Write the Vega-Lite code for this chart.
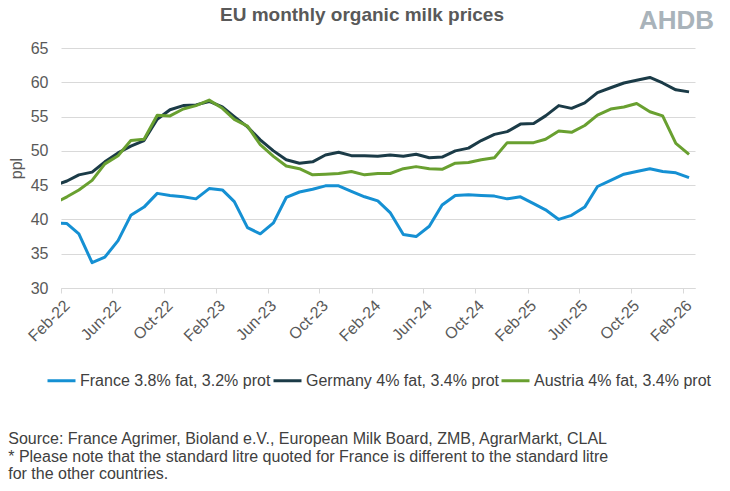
{
  "$schema": "https://vega.github.io/schema/vega-lite/v6.json",
  "padding": {"left": 8, "top": 6, "right": 5, "bottom": 5},
  "config": {
    "font": "Liberation Sans",
    "view": {"stroke": null},
    "background": "white",
    "legend": {"layout": {"bottom": {"anchor": "middle"}}}
  },
  "title": {
    "text": [
      "Source: France Agrimer, Bioland e.V., European Milk Board, ZMB, AgrarMarkt, CLAL",
      "* Please note that the standard litre quoted for France is different to the standard litre",
      "for the other countries."
    ],
    "orient": "bottom",
    "anchor": "start",
    "frame": "bounds",
    "fontSize": 16,
    "fontWeight": "normal",
    "color": "#404040",
    "lineHeight": 17.5,
    "offset": 42
  },
  "vconcat": [
    {
      "title": {
        "text": "AHDB",
        "anchor": "end",
        "frame": "bounds",
        "fontSize": 26,
        "fontWeight": "bold",
        "color": "#a9b3ba",
        "offset": -28,
        "dx": 19
      },
      "vconcat": [
        {
          "width": 634,
          "height": 240,
          "title": {
            "text": "EU monthly organic milk prices",
            "anchor": "middle",
            "frame": "group",
            "dx": -16,
            "fontSize": 19,
            "fontWeight": "bold",
            "color": "#595959",
            "offset": 15
          },
          "data": {
            "values": [
              {"d": "2022-01-15", "France": 39.5, "Germany": 44.9, "Austria": 42.3},
              {"d": "2022-02-15", "France": 39.4, "Germany": 45.6, "Austria": 43.3},
              {"d": "2022-03-15", "France": 37.9, "Germany": 46.5, "Austria": 44.3},
              {"d": "2022-04-15", "France": 33.7, "Germany": 46.9, "Austria": 45.7},
              {"d": "2022-05-15", "France": 34.5, "Germany": 48.4, "Austria": 48.1},
              {"d": "2022-06-15", "France": 36.9, "Germany": 49.7, "Austria": 49.3},
              {"d": "2022-07-15", "France": 40.6, "Germany": 50.7, "Austria": 51.5},
              {"d": "2022-08-15", "France": 41.8, "Germany": 51.5, "Austria": 51.7},
              {"d": "2022-09-15", "France": 43.8, "Germany": 54.6, "Austria": 55.2},
              {"d": "2022-10-15", "France": 43.5, "Germany": 56.0, "Austria": 55.1},
              {"d": "2022-11-15", "France": 43.3, "Germany": 56.6, "Austria": 56.1},
              {"d": "2022-12-15", "France": 43.0, "Germany": 56.7, "Austria": 56.6},
              {"d": "2023-01-15", "France": 44.5, "Germany": 57.2, "Austria": 57.4},
              {"d": "2023-02-15", "France": 44.3, "Germany": 56.4, "Austria": 56.2},
              {"d": "2023-03-15", "France": 42.6, "Germany": 55.0, "Austria": 54.6},
              {"d": "2023-04-15", "France": 38.8, "Germany": 53.5, "Austria": 53.6},
              {"d": "2023-05-15", "France": 37.9, "Germany": 51.6, "Austria": 50.9},
              {"d": "2023-06-15", "France": 39.5, "Germany": 50.0, "Austria": 49.2},
              {"d": "2023-07-15", "France": 43.2, "Germany": 48.7, "Austria": 47.8},
              {"d": "2023-08-15", "France": 44.0, "Germany": 48.2, "Austria": 47.4},
              {"d": "2023-09-15", "France": 44.4, "Germany": 48.4, "Austria": 46.5},
              {"d": "2023-10-15", "France": 44.9, "Germany": 49.4, "Austria": 46.6},
              {"d": "2023-11-15", "France": 44.9, "Germany": 49.8, "Austria": 46.7},
              {"d": "2023-12-15", "France": 44.1, "Germany": 49.3, "Austria": 47.0},
              {"d": "2024-01-15", "France": 43.3, "Germany": 49.3, "Austria": 46.5},
              {"d": "2024-02-15", "France": 42.7, "Germany": 49.2, "Austria": 46.7},
              {"d": "2024-03-15", "France": 41.0, "Germany": 49.4, "Austria": 46.7},
              {"d": "2024-04-15", "France": 37.8, "Germany": 49.2, "Austria": 47.4},
              {"d": "2024-05-15", "France": 37.5, "Germany": 49.5, "Austria": 47.7},
              {"d": "2024-06-15", "France": 39.0, "Germany": 49.0, "Austria": 47.4},
              {"d": "2024-07-15", "France": 42.1, "Germany": 49.1, "Austria": 47.3},
              {"d": "2024-08-15", "France": 43.5, "Germany": 50.0, "Austria": 48.2},
              {"d": "2024-09-15", "France": 43.6, "Germany": 50.4, "Austria": 48.3},
              {"d": "2024-10-15", "France": 43.5, "Germany": 51.5, "Austria": 48.7},
              {"d": "2024-11-15", "France": 43.4, "Germany": 52.4, "Austria": 49.0},
              {"d": "2024-12-15", "France": 43.0, "Germany": 52.8, "Austria": 51.2},
              {"d": "2025-01-15", "France": 43.3, "Germany": 53.9, "Austria": 51.2},
              {"d": "2025-02-15", "France": 42.3, "Germany": 54.0, "Austria": 51.2},
              {"d": "2025-03-15", "France": 41.4, "Germany": 55.1, "Austria": 51.7},
              {"d": "2025-04-15", "France": 40.0, "Germany": 56.6, "Austria": 52.9},
              {"d": "2025-05-15", "France": 40.6, "Germany": 56.2, "Austria": 52.7},
              {"d": "2025-06-15", "France": 41.8, "Germany": 57.0, "Austria": 53.7},
              {"d": "2025-07-15", "France": 44.8, "Germany": 58.5, "Austria": 55.2},
              {"d": "2025-08-15", "France": 45.7, "Germany": 59.2, "Austria": 56.1},
              {"d": "2025-09-15", "France": 46.6, "Germany": 59.9, "Austria": 56.4},
              {"d": "2025-10-15", "France": 47.0, "Germany": 60.3, "Austria": 56.9},
              {"d": "2025-11-15", "France": 47.4, "Germany": 60.7, "Austria": 55.7},
              {"d": "2025-12-15", "France": 47.0, "Germany": 59.9, "Austria": 55.1},
              {"d": "2026-01-15", "France": 46.8, "Germany": 58.9, "Austria": 51.1},
              {"d": "2026-02-15", "France": 46.1, "Germany": 58.6, "Austria": 49.5}
            ]
          },
          "transform": [{"fold": ["France", "Germany", "Austria"], "as": ["series", "price"]}],
          "mark": {"type": "line", "strokeWidth": 3, "clip": true, "strokeJoin": "round"},
          "encoding": {
            "x": {
              "field": "d",
              "type": "temporal",
              "scale": {
                "type": "utc",
                "domain": [
                  {"year": 2022, "month": 2, "date": 1, "utc": true},
                  {"year": 2026, "month": 3, "date": 1, "utc": true}
                ]
              },
              "axis": {
                "title": null,
                "values": [
                  {"year": 2022, "month": 2, "date": 1, "utc": true},
                  {"year": 2022, "month": 6, "date": 1, "utc": true},
                  {"year": 2022, "month": 10, "date": 1, "utc": true},
                  {"year": 2023, "month": 2, "date": 1, "utc": true},
                  {"year": 2023, "month": 6, "date": 1, "utc": true},
                  {"year": 2023, "month": 10, "date": 1, "utc": true},
                  {"year": 2024, "month": 2, "date": 1, "utc": true},
                  {"year": 2024, "month": 6, "date": 1, "utc": true},
                  {"year": 2024, "month": 10, "date": 1, "utc": true},
                  {"year": 2025, "month": 2, "date": 1, "utc": true},
                  {"year": 2025, "month": 6, "date": 1, "utc": true},
                  {"year": 2025, "month": 10, "date": 1, "utc": true},
                  {"year": 2026, "month": 2, "date": 1, "utc": true}
                ],
                "labelExpr": "utcFormat(datum.value, '%b-%y')",
                "labelAngle": -45,
                "labelFontSize": 16,
                "labelColor": "#595959",
                "labelPadding": 4,
                "grid": false,
                "domainColor": "#d9d9d9",
                "tickColor": "#d9d9d9",
                "tickSize": 5,
                "labelFlush": false,
                "labelOverlap": false
              }
            },
            "y": {
              "field": "price",
              "type": "quantitative",
              "scale": {"domain": [30, 65], "nice": false, "zero": false},
              "axis": {
                "title": "ppl",
                "titleFontSize": 16,
                "titleFontWeight": "normal",
                "titleColor": "#595959",
                "titlePadding": 6,
                "values": [30, 35, 40, 45, 50, 55, 60, 65],
                "labelFontSize": 16,
                "labelColor": "#595959",
                "labelPadding": 13,
                "domain": false,
                "ticks": false,
                "gridColor": "#d9d9d9",
                "gridWidth": 1
              }
            },
            "color": {
              "field": "series",
              "type": "nominal",
              "scale": {
                "domain": ["France", "Germany", "Austria"],
                "range": ["#1590d3", "#1b3b47", "#69a030"]
              },
              "legend": {
                "orient": "bottom",
                "direction": "horizontal",
                "title": null,
                "symbolType": "stroke",
                "symbolStrokeWidth": 3,
                "symbolSize": 784,
                "labelFontSize": 16,
                "labelColor": "#404040",
                "labelOffset": 3,
                "columnPadding": -4,
                "offset": 20,
                "labelExpr": "datum.label == 'France' ? 'France 3.8% fat, 3.2% prot' : datum.label == 'Germany' ? 'Germany 4% fat, 3.4% prot' : 'Austria 4% fat, 3.4% prot'",
                "labelLimit": 300
              }
            }
          }
        }
      ]
    }
  ]
}
